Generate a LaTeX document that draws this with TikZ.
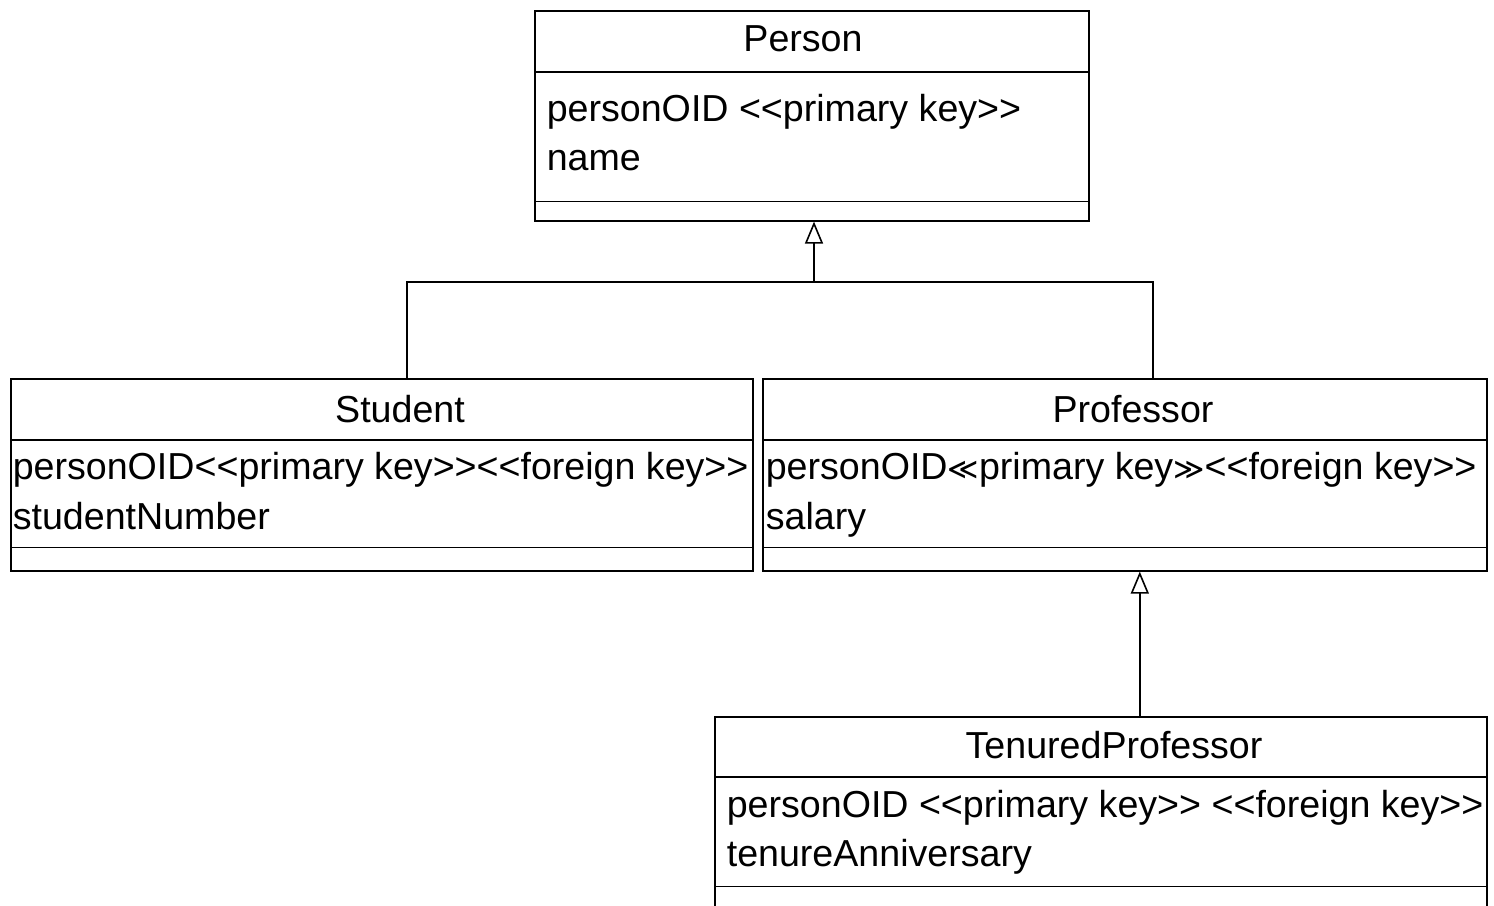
\documentclass[tikz,border=0pt]{standalone}
\usepackage{fontspec}
\setmainfont{Liberation Sans}
\newfontfamily\symfont{DejaVu Sans}
\usetikzlibrary{arrows.meta, positioning}

\begin{document}
\begin{tikzpicture}[
    x=1pt, y=-1pt,
    line width=1.6pt,
    classbox/.style={rectangle, draw, line width=1.6pt, anchor=north west,
                     inner sep=0pt},
    classname/.style={font=\fontsize{37.6}{45}\selectfont, anchor=base,
                      inner sep=0pt},
    attr/.style={font=\fontsize{37.6}{45}\selectfont, anchor=base west,
                 inner sep=0pt},
    inherit/.style={-{Triangle[open, length=22pt, width=18pt, line width=1.6pt]},
                    line width=1.6pt}
]
\clip (0,0) rectangle (1494,905);

% Person
\node[classbox, minimum width=554pt, minimum height=210pt] at (534,10) (person) {};
\draw ([yshift=-62pt]person.north west) -- ([yshift=-62pt]person.north east);
\draw ([yshift=20pt]person.south west) -- ([yshift=20pt]person.south east);
\node[classname] at (803,51) (person-name) {Person};
\node[attr] at (546,121) (person-oid) {personOID <{}<primary key>{}>};
\node[attr] at (546,170) (person-name2) {name};

% Student
\node[classbox, minimum width=742pt, minimum height=192pt] at (10,378) (student) {};
\draw ([yshift=-62pt]student.north west) -- ([yshift=-62pt]student.north east);
\draw ([yshift=24pt]student.south west) -- ([yshift=24pt]student.south east);
\node[classname] at (400,422) (student-name) {Student};
\node[attr] at (12,479) (student-oid) {personOID<{}<primary key>{}><{}<foreign key>{}>};
\node[attr] at (12,529) (student-num) {studentNumber};

% Professor
\node[classbox, minimum width=724pt, minimum height=192pt] at (762,378) (professor) {};
\draw ([yshift=-62pt]professor.north west) -- ([yshift=-62pt]professor.north east);
\draw ([yshift=24pt]professor.south west) -- ([yshift=24pt]professor.south east);
\node[classname] at (1133,422) (professor-name) {Professor};
\node[attr] at (765,479) (professor-oid)
    {personOID{\symfont\fontsize{30}{45}\selectfont ≪}primary
     key{\symfont\fontsize{30}{45}\selectfont ≫}<{}<foreign key>{}>};
\node[attr] at (765,529) (professor-salary) {salary};

% TenuredProfessor
\node[classbox, minimum width=772pt, minimum height=200pt] at (714,716) (tenured) {};
\draw ([yshift=-61pt]tenured.north west) -- ([yshift=-61pt]tenured.north east);
\draw ([yshift=31pt]tenured.south west) -- ([yshift=31pt]tenured.south east);
\node[classname] at (1114,758) (tenured-name) {TenuredProfessor};
\node[attr] at (726,817) (tenured-oid)
    {personOID <{}<primary key>{}> <{}<foreign key>{}>};
\node[attr] at (726,866) (tenured-date) {tenureAnniversary};

% Generalisation
\coordinate (fork) at (814,282);
\draw[inherit] (fork) -- (fork |- person.south);
\draw ([xshift=25pt]student.north) |- (fork) -| ([xshift=28pt]professor.north);
\draw[inherit] ([xshift=39pt]tenured.north) -- ([xshift=15pt]professor.south);

\end{tikzpicture}
\end{document}
